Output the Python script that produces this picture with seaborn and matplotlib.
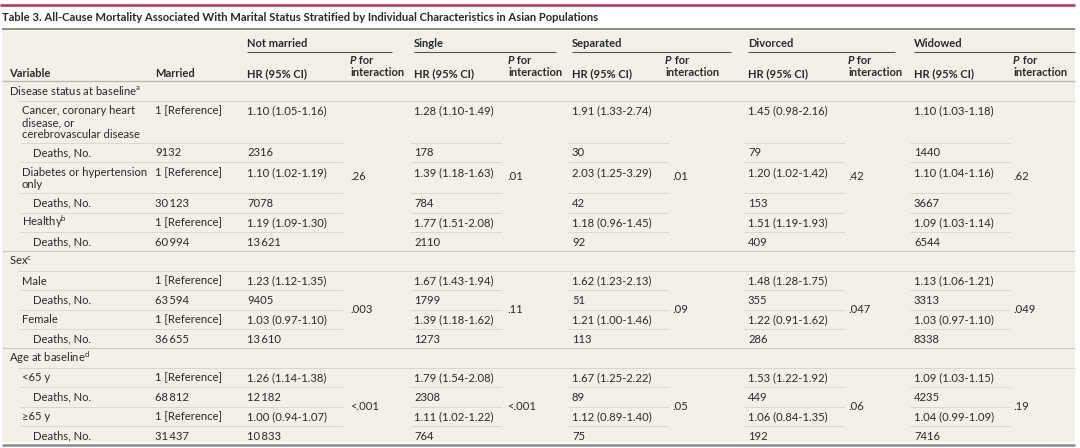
import matplotlib.pyplot as plt
import seaborn as sns

# ---- table content ----
title = ("Table 3. All-Cause Mortality Associated With Marital Status Stratified "
         "by Individual Characteristics in Asian Populations")

groups = ["Not married", "Single", "Separated", "Divorced", "Widowed"]

sections = ["Disease status at baseline", "Sex", "Age at baseline"]
section_notes = ["a", "c", "d"]
subgroups = [
    ["Cancer, coronary heart\ndisease, or\ncerebrovascular disease",
     "Diabetes or hypertension\nonly", "Healthy"],
    ["Male", "Female"],
    ["<65 y", "≥65 y"],
]
subgroup_notes = {"Healthy": "b"}

married_deaths = [9132, 30123, 60994, 63594, 36655, 68812, 31437]

not_married_hr = [1.10, 1.10, 1.19, 1.23, 1.03, 1.26, 1.00]
not_married_lo = [1.05, 1.02, 1.09, 1.12, 0.97, 1.14, 0.94]
not_married_hi = [1.16, 1.19, 1.30, 1.35, 1.10, 1.38, 1.07]
not_married_deaths = [2316, 7078, 13621, 9405, 13610, 12182, 10833]
not_married_p = [".26", ".003", "<.001"]

single_hr = [1.28, 1.39, 1.77, 1.67, 1.39, 1.79, 1.11]
single_lo = [1.10, 1.18, 1.51, 1.43, 1.18, 1.54, 1.02]
single_hi = [1.49, 1.63, 2.08, 1.94, 1.62, 2.08, 1.22]
single_deaths = [178, 784, 2110, 1799, 1273, 2308, 764]
single_p = [".01", ".11", "<.001"]

separated_hr = [1.91, 2.03, 1.18, 1.62, 1.21, 1.67, 1.12]
separated_lo = [1.33, 1.25, 0.96, 1.23, 1.00, 1.25, 0.89]
separated_hi = [2.74, 3.29, 1.45, 2.13, 1.46, 2.22, 1.40]
separated_deaths = [30, 42, 92, 51, 113, 89, 75]
separated_p = [".01", ".09", ".05"]

divorced_hr = [1.45, 1.20, 1.51, 1.48, 1.22, 1.53, 1.06]
divorced_lo = [0.98, 1.02, 1.19, 1.28, 0.91, 1.22, 0.84]
divorced_hi = [2.16, 1.42, 1.93, 1.75, 1.62, 1.92, 1.35]
divorced_deaths = [79, 153, 409, 355, 286, 449, 192]
divorced_p = [".42", ".047", ".06"]

widowed_hr = [1.10, 1.10, 1.09, 1.13, 1.03, 1.09, 1.04]
widowed_lo = [1.03, 1.04, 1.03, 1.06, 0.97, 1.03, 0.99]
widowed_hi = [1.18, 1.16, 1.14, 1.21, 1.10, 1.15, 1.09]
widowed_deaths = [1440, 3667, 6544, 3313, 8338, 4235, 7416]
widowed_p = [".62", ".049", ".19"]

hr_cols = [
    (not_married_hr, not_married_lo, not_married_hi, not_married_deaths, not_married_p),
    (single_hr, single_lo, single_hi, single_deaths, single_p),
    (separated_hr, separated_lo, separated_hi, separated_deaths, separated_p),
    (divorced_hr, divorced_lo, divorced_hi, divorced_deaths, divorced_p),
    (widowed_hr, widowed_lo, widowed_hi, widowed_deaths, widowed_p),
]

# ---- layout (pixels) ----
group_x = [247, 414, 572, 748, 914]
group_line_end = [392, 556, 731, 895, 1075]
p_head_x = [350, 508, 665, 848, 1013]
p_val_x = [350, 507, 672, 848, 1013]
inner_spans = [(20, 343), (410, 502), (568, 669), (744, 845), (910, 1010)]
left, right = 2, 1075
row_h = {1: 19.4, 2: 31, 3: 42}

TEXT = "#2a2a2a"
BG = "#f2f0e8"
FS = 8.1
HFS = 8.0
HW = "bold"


def fmt_n(n):
    s = f"{n:,}"
    return s.replace(",", "\u2009") if n >= 10000 else s.replace(",", "")


def fmt_hr(h, lo, hi):
    return f"{h:.2f} ({lo:.2f}-{hi:.2f})"


def with_note(s, note):
    return s + r"$^{\mathrm{" + note + "}}$" if note else s


def put(ax, x, y, s, **kw):
    kw.setdefault("fontsize", FS)
    kw.setdefault("color", TEXT)
    return ax.text(x, y, s, ha="left", va="baseline", **kw)


def put_lines(ax, x, top, s, **kw):
    for i, line in enumerate(s.split("\n")):
        put(ax, x, top + 13.6 + i * 11.6, line, **kw)


def hline(ax, x0, x1, y, color, lw):
    ax.plot([x0, x1], [y, y], color=color, lw=lw, solid_capstyle="butt")


sns.set_theme(style="white")
plt.rcParams["font.family"] = ["Lato", "DejaVu Sans"]
plt.rcParams["mathtext.fontset"] = "custom"
plt.rcParams["mathtext.rm"] = "Lato"
plt.rcParams["mathtext.it"] = "Lato:italic"
plt.rcParams["mathtext.bf"] = "Lato:bold"

fig = plt.figure(figsize=(10.8, 4.48), dpi=100)
ax = fig.add_axes([0, 0, 1, 1])
ax.set_xlim(0, 1080)
ax.set_ylim(448, 0)
ax.axis("off")

# title block
hline(ax, 0, right, 5, "#b8365f", 1.9)
put(ax, 2, 21, title, fontsize=8.15, fontweight="bold")

# table background
ax.add_patch(plt.Rectangle((left, 29), right - left, 413, color=BG, lw=0, zorder=0))
hline(ax, left, right, 29, "#6e6e6e", 1.1)

# header
for i, g in enumerate(groups):
    put(ax, group_x[i], 47, g, fontweight=HW, fontsize=HFS)
    hline(ax, group_x[i], group_line_end[i], 52.5, "#555555", 0.8)
    put(ax, group_x[i], 77, "HR (95% CI)", fontweight=HW, fontsize=HFS)
    p = put(ax, p_head_x[i], 64.5, "P", fontweight=HW, fontsize=HFS, style="italic")
    ax.annotate(" for", xy=(1, 0), xycoords=p, ha="left", va="bottom",
                fontsize=HFS, color=TEXT, fontweight=HW)
    put(ax, p_head_x[i], 76, "interaction", fontweight=HW, fontsize=HFS)
put(ax, 9, 77, "Variable", fontweight=HW, fontsize=HFS)
put(ax, 155, 77, "Married", fontweight=HW, fontsize=HFS)
hline(ax, left, right, 81.5, "#b9b5ab", 0.9)

# body
y = 81.5
k = 0
for s, sec in enumerate(sections):
    if s > 0:
        hline(ax, left, right, y, "#cdc9bf", 0.8)
    put_lines(ax, 9, y, with_note(sec, section_notes[s]))
    y += row_h[1]
    hline(ax, 18, right, y, "#d9d5cb", 0.7)
    sec_top = y
    subs = subgroups[s]
    for j, label in enumerate(subs):
        nl = label.count("\n") + 1
        put_lines(ax, 22, y, with_note(label, subgroup_notes.get(label)))
        put(ax, 155, y + 13.6, "1 [Reference]")
        for g, (hr, lo, hi, dd, pp) in enumerate(hr_cols):
            put(ax, group_x[g], y + 13.6, fmt_hr(hr[k], lo[k], hi[k]))
        y += row_h[nl]
        for x0, x1 in inner_spans:
            hline(ax, x0, x1, y, "#dcd8ce", 0.7)
        put(ax, 33, y + 13.6, "Deaths, No.")
        put(ax, 155, y + 13.6, fmt_n(married_deaths[k]))
        for g, (hr, lo, hi, dd, pp) in enumerate(hr_cols):
            put(ax, group_x[g], y + 13.6, fmt_n(dd[k]))
        y += row_h[1]
        if j < len(subs) - 1:
            for x0, x1 in inner_spans:
                hline(ax, x0, x1, y, "#dcd8ce", 0.7)
        k += 1
    mid = (sec_top + y) / 2
    for g, (hr, lo, hi, dd, pp) in enumerate(hr_cols):
        ax.text(p_val_x[g], mid, pp[s], ha="left", va="center",
                fontsize=FS, color=TEXT)

hline(ax, left, right, y, "#8a8a8a", 1.8)

fig.savefig("out.png", dpi=100, facecolor="white")
